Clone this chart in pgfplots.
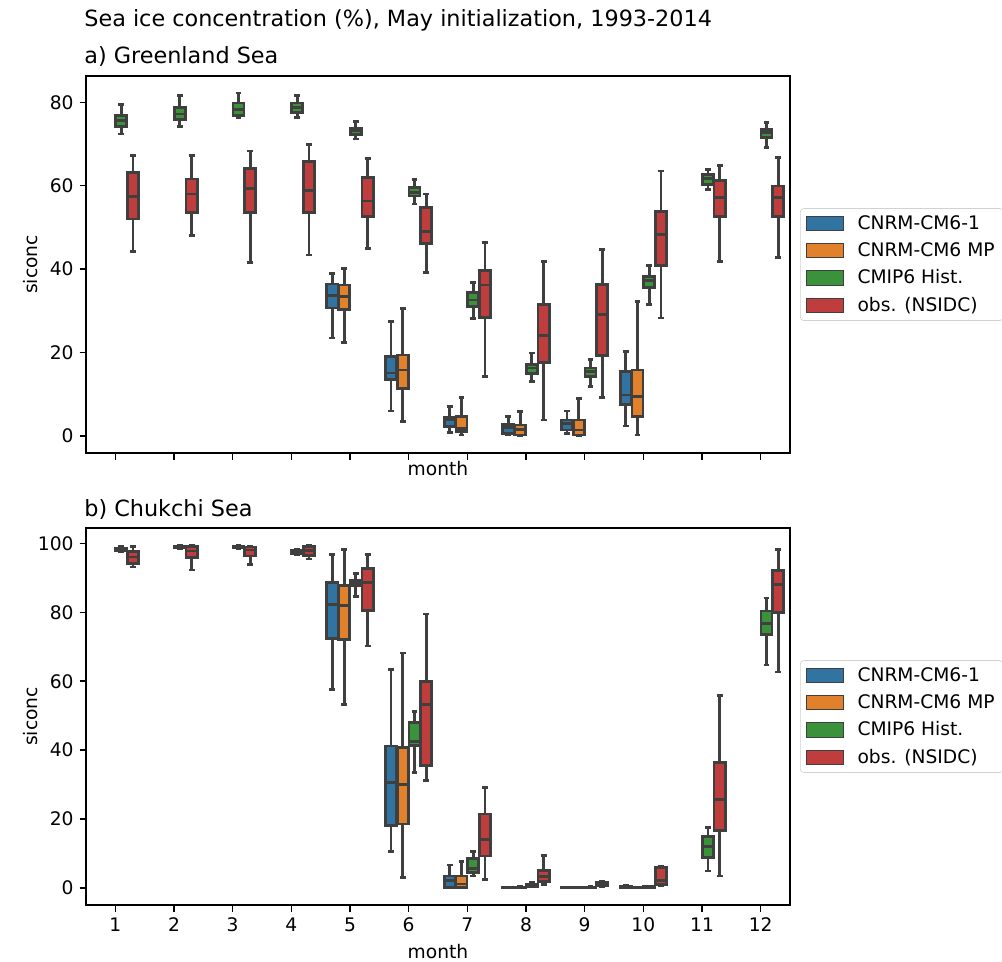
\documentclass[border=0pt]{standalone}
\usepackage{fontspec}
\setmainfont{DejaVu Sans}
\usepackage{pgfplots}
\usepackage{pgfplotstable}
\pgfplotsset{compat=1.18}
\usepgfplotslibrary{statistics}

\definecolor{cblue}{HTML}{3274A1}
\definecolor{corange}{HTML}{E1812C}
\definecolor{cgreen}{HTML}{3A923A}
\definecolor{cred}{HTML}{C03D3E}
\definecolor{bgray}{HTML}{3F3F3F}

% pos = month + offset; lw q1 med q3 uw = whisker/quartile/median values
\pgfplotstableread{
pos lw q1 med q3 uw col
1.1 72.4 74.2 75.6 76.8 79.4 cgreen
1.3 44.3 52.0 57.4 63.2 67.3 cred
2.1 74.2 75.9 77.2 78.7 81.6 cgreen
2.3 48.0 53.6 58.0 61.6 67.3 cred
3.1 76.3 76.8 78.3 79.8 82.2 cgreen
3.3 41.5 53.6 59.4 64.2 68.3 cred
4.1 76.3 77.6 78.7 79.8 81.6 cgreen
4.3 43.4 53.6 58.8 65.8 69.8 cred
4.7 23.5 30.7 33.6 36.4 39.0 cblue
4.9 22.4 30.4 33.4 36.2 40.2 corange
5.1 71.2 72.2 73.1 73.8 75.4 cgreen
5.3 45.0 52.7 56.3 61.9 66.6 cred
5.7 6.0 13.6 15.1 19.0 27.4 cblue
5.9 3.4 11.4 15.8 19.4 30.6 corange
6.1 55.6 57.5 58.4 59.6 61.5 cgreen
6.3 39.2 46.2 49.0 54.8 58.0 cred
6.7 0.8 2.3 3.8 4.4 7.0 cblue
6.9 0.2 1.0 1.8 4.7 9.2 corange
7.1 28.2 31.0 32.6 34.3 36.7 cgreen
7.3 14.2 28.4 36.2 39.6 46.3 cred
7.7 0.2 0.6 2.0 2.8 4.7 cblue
7.9 0.0 0.2 1.5 2.6 5.8 corange
8.1 13.1 15.0 16.3 17.1 19.9 cgreen
8.3 3.8 17.6 24.0 31.5 41.8 cred
8.7 0.6 1.4 3.0 3.8 6.0 cblue
8.9 0.0 0.2 1.4 3.8 9.0 corange
9.1 11.9 14.2 15.5 16.3 18.3 cgreen
9.3 9.2 19.2 29.2 36.3 44.7 cred
9.7 2.4 7.5 9.8 15.5 20.2 cblue
9.9 0.2 4.7 9.4 15.8 32.3 corange
10.1 31.5 35.6 37.2 38.3 40.8 cgreen
10.3 28.3 40.8 48.3 53.8 63.5 cred
11.1 59.0 60.2 61.8 62.6 63.9 cgreen
11.3 41.8 52.7 57.2 61.2 64.8 cred
12.1 69.2 71.5 72.8 73.5 75.1 cgreen
12.3 42.8 52.7 57.1 59.9 66.7 cred
}\greenland

\pgfplotstableread{
pos lw q1 med q3 uw col
1.1 97.6 97.9 98.3 98.7 99.1 cgreen
1.3 93.2 94.2 96.1 97.6 99.2 cred
2.1 98.4 98.7 98.9 99.1 99.4 cgreen
2.3 92.3 96.0 97.8 99.2 99.5 cred
3.1 98.4 98.7 98.9 99.1 99.4 cgreen
3.3 94.0 96.4 98.1 99.0 99.2 cred
4.1 96.8 97.2 97.6 98.0 98.4 cgreen
4.3 95.5 96.5 97.9 99.2 99.5 cred
4.7 57.6 72.4 82.3 88.7 96.8 cblue
4.9 53.3 72.1 82.1 87.7 98.3 corange
5.1 84.7 87.8 88.7 89.4 91.3 cgreen
5.3 70.2 80.6 88.7 92.7 96.8 cred
5.7 10.5 18.2 30.6 41.2 63.5 cblue
5.9 3.0 18.5 30.0 40.8 68.2 corange
6.1 33.5 41.4 42.4 48.0 51.3 cgreen
6.3 31.1 35.6 53.2 60.0 79.5 cred
6.7 0.0 0.1 2.2 3.4 6.6 cblue
6.9 0.0 0.1 1.1 3.4 7.7 corange
7.1 3.4 4.5 5.6 8.5 10.5 cgreen
7.3 2.5 9.2 14.0 21.4 29.1 cred
7.7 0.0 0.0 0.05 0.1 0.2 cblue
7.9 0.0 0.05 0.1 0.2 0.4 corange
8.1 0.2 0.4 0.7 1.0 1.5 cgreen
8.3 1.0 1.9 3.2 5.1 9.3 cred
8.7 0.0 0.0 0.02 0.05 0.1 cblue
8.9 0.0 0.0 0.02 0.05 0.1 corange
9.1 0.0 0.05 0.1 0.2 0.3 cgreen
9.3 0.4 0.6 1.0 1.5 1.9 cred
9.7 0.0 0.1 0.2 0.4 0.8 cblue
9.9 0.0 0.0 0.05 0.1 0.2 corange
10.1 0.0 0.1 0.2 0.3 0.5 cgreen
10.3 0.6 1.0 2.2 5.8 6.1 cred
11.1 4.9 8.7 11.9 14.8 17.5 cgreen
11.3 3.4 16.6 25.7 36.3 55.8 cred
12.1 64.7 73.6 76.8 80.4 84.2 cgreen
12.3 62.7 79.9 88.2 92.1 98.3 cred
}\chukchi

\newcommand{\drawboxes}[1]{%
  \pgfplotstablegetrowsof{#1}%
  \pgfmathtruncatemacro{\nrows}{\pgfplotsretval-1}%
  \pgfplotsforeachungrouped \i in {0,...,\nrows}{%
    \pgfplotstablegetelem{\i}{pos}\of#1\edef\bpos{\pgfplotsretval}%
    \pgfplotstablegetelem{\i}{lw}\of#1\edef\blw{\pgfplotsretval}%
    \pgfplotstablegetelem{\i}{q1}\of#1\edef\bqa{\pgfplotsretval}%
    \pgfplotstablegetelem{\i}{med}\of#1\edef\bmed{\pgfplotsretval}%
    \pgfplotstablegetelem{\i}{q3}\of#1\edef\bqb{\pgfplotsretval}%
    \pgfplotstablegetelem{\i}{uw}\of#1\edef\buw{\pgfplotsretval}%
    \pgfplotstablegetelem{\i}{col}\of#1\edef\bcol{\pgfplotsretval}%
    \edef\doplot{\noexpand\addplot[forget plot, boxfmt, fill=\bcol,
      boxplot prepared={draw direction=y, draw position=\bpos, lower whisker=\blw,
      lower quartile=\bqa, median=\bmed, upper quartile=\bqb,
      upper whisker=\buw}] coordinates {};}%
    \doplot
  }%
}

\pgfplotsset{
  boxfmt/.style={solid, draw=bgray, line width=1.65pt,
    boxplot/draw direction=y,
    boxplot/box extend=0.19, boxplot/whisker extend=0.1},
  legbox/.style={legend image code/.code={%
    \draw[sharp corners, fill=#1, draw=bgray, line width=0.6pt] (0pt,-4.3pt) rectangle (22.5pt,4.3pt);}},
  myax/.style={
    scale only axis, width=422.4pt, height=226.2pt,
    xmin=0.5, xmax=12.5, xtick={1,...,12},
    tick align=outside, xtick pos=left, ytick pos=left,
    major tick length=3.9pt,
    every tick/.style={black, line width=0.9pt},
    axis line style={black, line width=0.9pt},
    /pgf/number format/assume math mode=true,
    ticklabel style={font=\fontsize{11.2}{13}\selectfont},
    label style={font=\fontsize{11.2}{13}\selectfont},
    ylabel={siconc},
    ylabel style={at={([xshift=-33.3pt]axis description cs:0,0.5)}, anchor=center},
    legend cell align=left,
    legend style={at={(1,0.5)}, anchor=west, xshift=6pt,
      draw=black!18, rounded corners=2pt, fill=white,
      font=\fontsize{11.2}{13}\selectfont,
      inner xsep=3.2pt, inner ysep=2pt, row sep=2.5pt,
      /tikz/every odd column/.append style={column sep=6pt}},
  }
}

\begin{document}
\begin{tikzpicture}
\useasboundingbox (0,0) rectangle (601.2pt,576.6pt);

\begin{axis}[myax, at={(51.6pt,304.8pt)}, anchor=south west,
  ymin=-4.1, ymax=86.3, ytick={0,20,40,60,80},
  xticklabels={},
  xlabel={month},
  xlabel style={at={([yshift=-13.2pt]axis description cs:0.5,0)}, anchor=base},
  ]
  \drawboxes{\greenland}
  \addlegendimage{legbox=cblue}\addlegendentry{CNRM-CM6-1}
  \addlegendimage{legbox=corange}\addlegendentry{CNRM-CM6 MP}
  \addlegendimage{legbox=cgreen}\addlegendentry{CMIP6 Hist.}
  \addlegendimage{legbox=cred}\addlegendentry{obs. (NSIDC)}
\end{axis}

\begin{axis}[myax, at={(51.6pt,33.6pt)}, anchor=south west,
  ymin=-5.0, ymax=104.5, ytick={0,20,40,60,80,100},
  xlabel={month},
  xlabel style={at={([yshift=-31.8pt]axis description cs:0.5,0)}, anchor=base},
  ]
  \drawboxes{\chukchi}
  \addlegendimage{legbox=cblue}\addlegendentry{CNRM-CM6-1}
  \addlegendimage{legbox=corange}\addlegendentry{CNRM-CM6 MP}
  \addlegendimage{legbox=cgreen}\addlegendentry{CMIP6 Hist.}
  \addlegendimage{legbox=cred}\addlegendentry{obs. (NSIDC)}
\end{axis}

\node[anchor=base west, inner sep=0pt, font=\fontsize{13.4}{16}\selectfont]
  at (50.4pt,560.4pt) {Sea ice concentration (\%), May initialization, 1993-2014};
\node[anchor=base west, inner sep=0pt, font=\fontsize{13.4}{16}\selectfont]
  at (50.4pt,538.2pt) {a) Greenland Sea};
\node[anchor=base west, inner sep=0pt, font=\fontsize{13.4}{16}\selectfont]
  at (50.4pt,267.0pt) {b) Chukchi Sea};
\end{tikzpicture}
\end{document}
